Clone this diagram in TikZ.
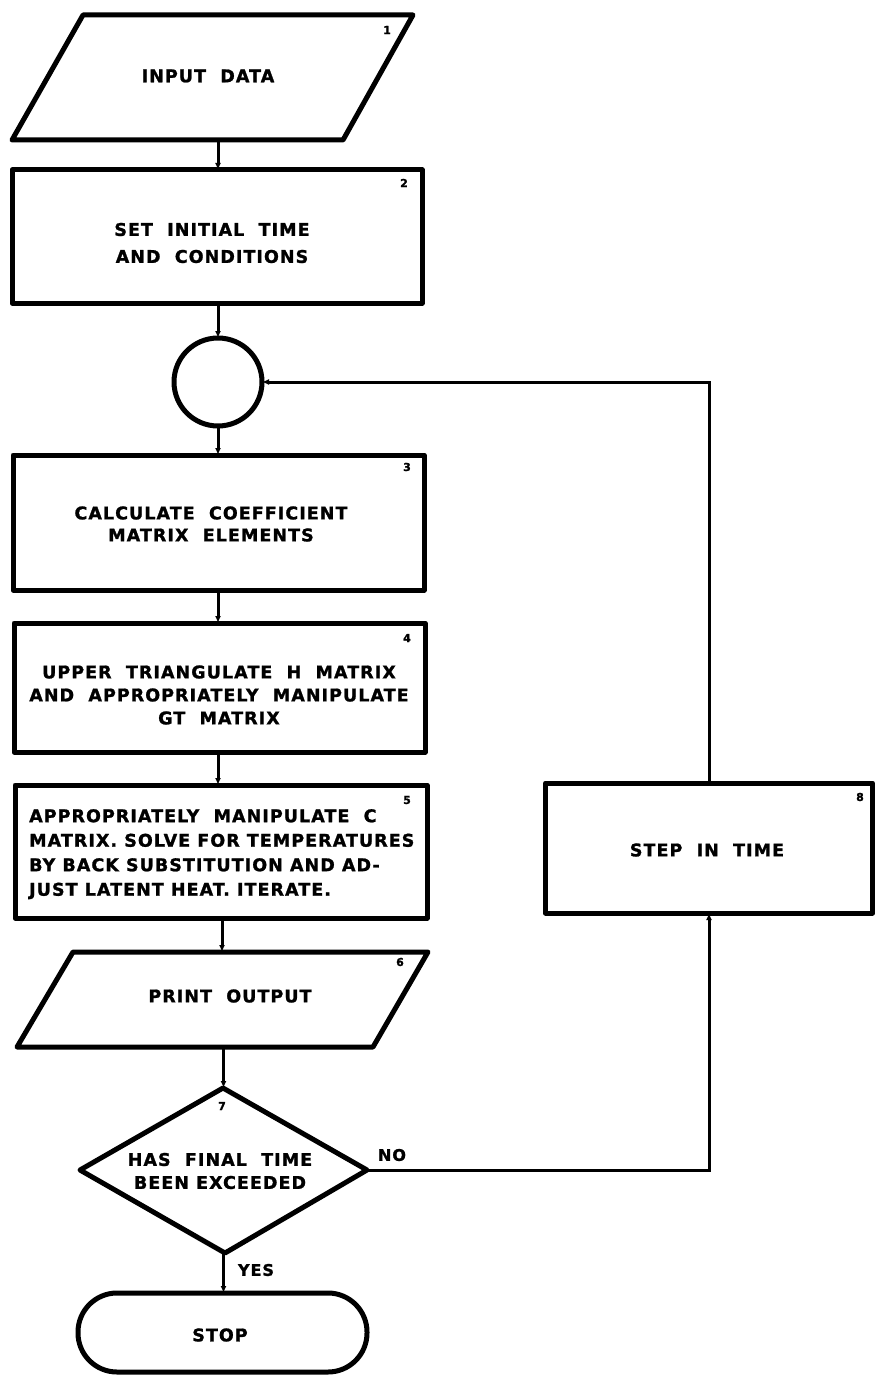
\documentclass[tikz,border=0pt]{standalone}
\usepackage{fontspec}
\newfontfamily\lf{DejaVu Sans}[LetterSpace=6, BoldFeatures={FakeBold=1.3}]
\usetikzlibrary{arrows.meta,shapes.geometric}
\tikzset{
  shp/.style={draw=black, line width=5pt, line join=round, inner sep=0pt, outer sep=0pt},
  anchorbox/.style={rectangle, inner sep=0pt, outer sep=0pt},
  conn/.style={draw=black, line width=3pt, -{Latex[length=7pt,width=6pt]}},
  txt/.style={font=\lf\fontsize{17.5}{23}\selectfont\bfseries, align=center, inner sep=0pt},
  txtl/.style={font=\lf\fontsize{17.5}{24.5}\selectfont\bfseries, align=left, inner sep=0pt},
  num/.style={font=\lf\fontsize{11}{11}\selectfont\bfseries, inner sep=0pt},
  lbl/.style={font=\lf\fontsize{16}{16}\selectfont\bfseries, inner sep=0pt}
}
\begin{document}
\begin{tikzpicture}[x=1pt,y=-1pt]
\useasboundingbox[fill=white] (0,0) rectangle (875,1375);

% 1 input parallelogram
\draw[shp] (83,15) -- (413,15) -- (343,140) -- (12,140) -- cycle;
\node[anchorbox, minimum width=200pt, minimum height=125pt] (p1) at (218,77.5) {};
\node[txt] (t1) at (208,76) {INPUT\ \ DATA};
\node[num] (n1) at (387,30) {1};

% 2
\node[shp, rectangle, minimum width=410pt, minimum height=133pt] (b2) at (217,236.5) {};
\node[txt, font=\lf\fontsize{17.5}{27}\selectfont\bfseries] (t2) at (212,243) {SET\ \ INITIAL\ \ TIME\\AND\ \ CONDITIONS};
\node[num] (n2) at (404,183) {2};

% connector circle
\node[shp, circle, minimum size=88pt] (c) at (218,382) {};

% 3
\node[shp, rectangle, minimum width=411pt, minimum height=135pt] (b3) at (218.5,522.5) {};
\node[txt, font=\lf\fontsize{17.5}{22}\selectfont\bfseries] (t3) at (211,524) {CALCULATE\ \ COEFFICIENT\\MATRIX\ \ ELEMENTS};
\node[num] (n3) at (407,467) {3};

% 4
\node[shp, rectangle, minimum width=411pt, minimum height=129pt] (b4) at (219.5,687.5) {};
\node[txt] (t4) at (219,695) {UPPER\ \ TRIANGULATE\ \ H\ \ MATRIX\\AND\ \ APPROPRIATELY\ \ MANIPULATE\\GT\ \ MATRIX};
\node[num] (n4) at (407,638) {4};

% 5
\node[shp, rectangle, minimum width=412pt, minimum height=133pt] (b5) at (221,851.5) {};
\node[txtl, anchor=north west] (t5) at (29,809) {APPROPRIATELY\ \ MANIPULATE\ \ C\\MATRIX. SOLVE FOR TEMPERATURES\\BY BACK SUBSTITUTION AND AD-\\JUST LATENT HEAT. ITERATE.};
\node[num] (n5) at (407,800) {5};

% 6 print parallelogram
\draw[shp] (73,952) -- (428,952) -- (373,1047) -- (17,1047) -- cycle;
\node[anchorbox, minimum width=200pt, minimum height=95pt] (p6) at (222,999.5) {};
\node[txt] (t6) at (230,996) {PRINT\ \ OUTPUT};
\node[num] (n6) at (400,962) {6};

% 7 decision
\draw[shp] (223,1088) -- (367,1170) -- (225,1253) -- (80,1170) -- cycle;
\node[anchorbox, minimum width=287pt, minimum height=165pt] (d7) at (223.5,1170.5) {};
\node[txt] (t7) at (220,1171) {HAS\ \ FINAL\ \ TIME\\BEEN EXCEEDED};
\node[num] (n7) at (222,1106) {7};

% stop
\node[shp, rectangle, rounded corners=39pt, minimum width=289pt, minimum height=79pt] (stop) at (222.5,1332.5) {};
\node[txt] (ts) at (220,1335) {STOP};

% 8
\node[shp, rectangle, minimum width=327pt, minimum height=130pt] (b8) at (709,848) {};
\node[txt] (t8) at (707,850) {STEP\ \ IN\ \ TIME};
\node[num] (n8) at (860,797) {8};

% labels
\node[lbl] (no) at (392,1155) {NO};
\node[lbl] (yes) at (256,1270) {YES};

% connectors
\draw[conn] (p1.south) -- (b2.north -| p1.south);
\draw[conn] (b2.south -| c.south) -- (c.north);
\draw[conn] (c.south) -- (b3.north -| c.south);
\draw[conn] (b3.south -| c.south) -- (b4.north -| c.south);
\draw[conn] (b4.south -| c.south) -- (b5.north -| c.south);
\draw[conn] (b5.south -| p6.north) -- (p6.north);
\draw[conn] (p6.south -| d7.north) -- (d7.north);
\draw[conn] (d7.south) -- (stop.north -| d7.south);
\draw[conn] (d7.east) -| (b8.south);
\draw[conn] (b8.north) |- (c.east);
\end{tikzpicture}
\end{document}
